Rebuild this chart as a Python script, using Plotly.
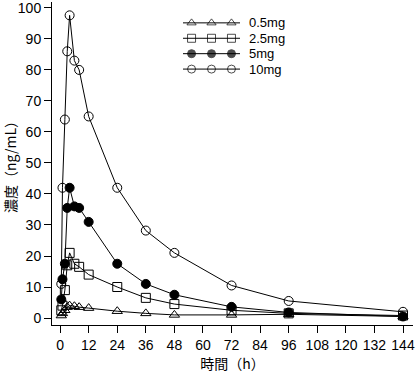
import plotly.graph_objects as go

times = [0.5, 1, 2, 3, 4, 6, 8, 12, 24, 36, 48, 72, 96, 144]
dose_05 = [0.8, 1.5, 2.5, 3.5, 4.0, 3.8, 3.5, 3.2, 2.2, 1.5, 1.0, 1.0, 1.2, 0.5]
dose_25 = [2.5, 4.0, 9.0, 17.0, 21.0, 17.5, 16.5, 14.0, 10.0, 6.5, 4.5, 2.5, 1.5, 0.8]
dose_5 = [6.0, 12.5, 17.5, 35.5, 42.0, 36.0, 35.5, 31.0, 17.5, 11.0, 7.5, 3.6, 1.8, 0.5]
dose_10 = [11.0, 42.0, 64.0, 86.0, 97.6, 83.0, 80.0, 65.0, 42.0, 28.2, 21.0, 10.5, 5.5, 2.0]
names = ["0.5mg", "2.5mg", "5mg", "10mg"]
symbols = ["triangle-up-open", "square-open", "circle", "circle-open"]
x_ticks = list(range(0, 145, 12))
y_ticks = list(range(0, 101, 10))

fig = go.Figure()
for name, vals, sym in zip(names, [dose_05, dose_25, dose_5, dose_10], symbols):
    fig.add_trace(go.Scatter(
        x=times, y=vals, name=name, mode="lines+markers", showlegend=False,
        line=dict(color="black", width=1),
        marker=dict(symbol=sym, size=9, color="black",
                    line=dict(color="black", width=1)),
    ))

# custom legend (line with three markers per entry), drawn in an inset axis
top_px, step_px = 21.0, 15.5
for row, (name, sym) in enumerate(zip(names, symbols)):
    fig.add_trace(go.Scatter(
        x=[0, 0.15, 0.5, 0.85, 1], y=[row] * 5, xaxis="x2", yaxis="y2",
        mode="lines+markers", showlegend=False, hoverinfo="skip",
        cliponaxis=False,
        line=dict(color="black", width=1),
        marker=dict(symbol=sym, size=[0, 8, 8, 8, 0], color="black",
                    line=dict(color="black", width=1)),
    ))
    fig.add_annotation(x=0.543, y=1 - (top_px + row * step_px) / 325,
                       xref="paper", yref="paper", text=name,
                       showarrow=False, xanchor="left", yanchor="middle",
                       borderpad=0,
                       font=dict(family="Liberation Sans, Arial", size=13,
                                 color="black"))

axis_common = dict(
    showgrid=False, zeroline=False, showline=True, linecolor="black",
    linewidth=1, ticks="outside", ticklen=7, tickcolor="black",
    ticklabeloverflow="allow",
    tickfont=dict(family="Liberation Sans, Arial", size=14, color="black"),
)
# legend inset axis: rows at top_px + row*step_px (px from plot top)
y2_top_px, y2_bot_px = 13.0, 75.5
y2_range_top = (y2_top_px - top_px) / step_px
y2_range_bot = (y2_bot_px - top_px) / step_px
fig.update_layout(
    width=417, height=375,
    margin=dict(l=52, r=4, t=0, b=50),
    paper_bgcolor="white", plot_bgcolor="white",
    font=dict(family="Liberation Sans, Noto Sans CJK JP", color="black"),
    xaxis=dict(range=[-3.4, 148.2], tickvals=x_ticks, **axis_common,
               title=dict(text="時間（h）", standoff=7,
                          font=dict(family="Noto Sans CJK JP", size=14,
                                    color="black"))),
    yaxis=dict(range=[-2.25, 101.9], tickvals=y_ticks, **axis_common,
               title=dict(text="濃度（ng/mL）", standoff=5,
                          font=dict(family="Noto Sans CJK JP", size=14,
                                    color="black"))),
    xaxis2=dict(domain=[0.3629, 0.5208], range=[0, 1], anchor="y2",
                visible=False, fixedrange=True),
    yaxis2=dict(domain=[1 - y2_bot_px / 325, 1 - y2_top_px / 325],
                range=[y2_range_bot, y2_range_top], anchor="x2",
                visible=False, fixedrange=True),
)
fig.write_html("out.html", config={"displayModeBar": False},
               post_script="document.body.style.margin='0';")
